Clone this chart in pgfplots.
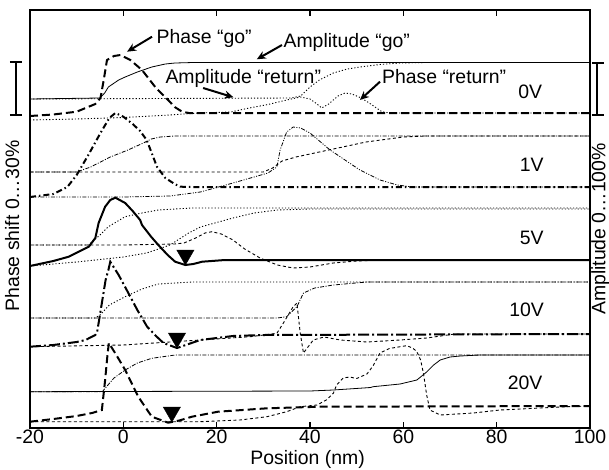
\documentclass[border=0pt]{standalone}
\usepackage{pgfplots}
\pgfplotsset{compat=1.18}
\usepackage{fontspec}
\setmainfont{Liberation Sans}
\usetikzlibrary{arrows.meta}
\newcommand{\bigf}{\fontsize{19.5}{22}\selectfont}
\begin{document}
\begin{tikzpicture}
\begin{axis}[
  scale only axis, width=560bp, height=418bp,
  xmin=-20, xmax=100, ymin=10, ymax=428, y dir=reverse,
  xtick={-20,0,20,40,60,80,100}, ytick=\empty,
  tick align=inside, major tick length=6bp,
  xtick pos=both,
  every tick/.style={line width=1.5bp,black},
  axis line style={line width=2bp},
  /pgf/number format/assume math mode=true,
  tick label style={font=\bigf},
  xticklabel style={yshift=1.5bp},
  clip=false,
  thickd/.style={line width=2bp, dash pattern=on 8bp off 4bp},
  thickdd/.style={line width=2bp, dash pattern=on 6bp off 3bp on 1.5bp off 3bp},
  thickld/.style={line width=2bp, dash pattern=on 11bp off 3bp on 2bp off 3bp},
  thicks/.style={line width=2bp},
  thins/.style={line width=0.8bp},
  thindot/.style={line width=0.9bp, dash pattern=on 1.2bp off 2bp},
  thindash/.style={line width=0.9bp, dash pattern=on 3bp off 2.5bp},
  thindd/.style={line width=0.8bp, dash pattern=on 4bp off 1.5bp on 1bp off 1.5bp},
  thinddd/.style={line width=0.8bp, dash pattern=on 4bp off 1.5bp on 1bp off 1.5bp on 1bp off 1.5bp},
]
% ---------- 0V ----------
\addplot[thickd, black] coordinates {(-20,116)(-15,114.5)(-10,111.7)(-6,104)(-4.9,98)(-4.2,80)(-3.5,60)(-2,56)(-0.6,55)(1.5,60)(4,70)(7,88)(9.6,100)(11,107)(12.6,111.7)(14,113)(20,113)(100,113)};
\addplot[thins, black] coordinates {(-20,99)(-5,98)(-4,93)(-3.2,87)(-1,80)(0.4,77)(3,72)(6.1,67)(9,64)(11.1,63)(15,62.5)(100,62.5)};
\addplot[thindot, black] coordinates {(-20,99)(36,98)(38,96)(40,87)(42,80)(45,73)(48,69)(50.7,67)(55,64.5)(59.3,63)(65,62.5)(100,62.5)};
\addplot[thindot, black] coordinates {(-20,120)(-10,119)(0,117.5)(10,115)(16,113)(23,112)(27,108)(31,104.5)(35,100)(38,97)(40,99)(41.5,104)(42.5,108)(44,104)(46,96)(47.5,93)(49,94)(51,98)(53,104)(55.4,111.7)(57,113)(100,113)};
% ---------- 1V ----------
\addplot[thickdd, black] coordinates {(-20,197)(-15,194)(-12,187)(-10,175)(-7.5,155)(-4.9,133)(-3,118)(-1.7,113)(0,116.7)(2,124)(3.6,131)(5,140)(6,152)(7.2,166.7)(9,178)(11,184)(12.2,186.7)(15,187)(100,187)};
\addplot[thindd, black] coordinates {(-20,172)(-10,172)(-7,167)(-2.8,157)(1,150)(4.3,143)(6,139)(7.9,137)(11,136)(100,136)};
\addplot[thindash, black] coordinates {(-20,172)(30,172)(32,168)(34,161)(37,157)(44,150)(52,142)(60,137)(65,136)(100,136)};
\addplot[thinddd, black] coordinates {(-20,197)(0,197)(10,196)(16.5,192)(23.5,183)(28,177)(31,173)(32.9,167)(33.6,150)(35,132)(36.4,127)(38,128)(40,133)(44.3,150)(50.7,170)(55,180)(58.7,185)(62,187)(100,187)};
% ---------- 5V ----------
\addplot[thicks, black] coordinates {(-20,266)(-15,261)(-11.7,256.7)(-7.4,246.7)(-6,238)(-5.3,223)(-3.9,206.7)(-2.8,200)(-1.7,197.7)(0.4,203)(2,211)(3.6,220)(4.0,225)(6,237)(7.5,245)(9.5,255)(11.1,261.7)(13.3,265)(15,264)(16.9,261.7)(21.8,260)(100,260)};
\addplot[thindot, black] coordinates {(-20,245)(-7.5,245)(-5,235)(-3.2,226.7)(0.4,216.7)(4,213)(7.5,210)(14.7,208)(100,208)};
\addplot[thindash, black] coordinates {(-20,245)(0,245)(11,244)(13,243)(15.5,238)(17.5,233)(19,231.7)(21,234)(23.5,240)(26,249)(29.3,258)(33,265)(36.4,268)(40,267)(45,263)(50,261)(55,260)(100,260)};
\addplot[thindot, black] coordinates {(-20,266)(-10,262)(0,257)(5,253)(10,245)(14,233)(16.5,227)(23.5,218)(28,213)(33,210)(40,209)(100,209)};
% ---------- 10V ----------
\addplot[thickld, black] coordinates {(-20,346.7)(-15,345)(-10,342)(-8.1,340)(-6,335)(-5.6,331.7)(-4.6,303)(-3.8,280)(-3.2,270)(-2.8,261.7)(-1,275)(1.5,296.7)(3,310)(5.1,326.7)(7,336)(8.6,343)(11.5,348)(14,344)(16.5,340)(23.5,336)(30,335)(100,334)};
\addplot[thindot, black] coordinates {(-20,318)(-6,318)(-5,315)(-3,305)(0.4,296.7)(4,289)(7.5,284)(14.7,282)(100,282)};
\addplot[thindd, black] coordinates {(-20,318)(33,318)(35,316.7)(37.2,306.7)(38.6,293)(41,288)(45,285)(52.2,282)(100,282)};
\addplot[thindash, black] coordinates {(-20,346.7)(0,345)(16.5,340)(27.2,336.7)(32.9,333.3)(34.3,323)(36.4,306.7)(37.2,303)(37.9,333)(38.6,353)(40.7,340)(43,337)(46.5,340)(52.2,342)(59.3,340)(65,338)(71,334)(100,334)};
% ---------- 20V ----------
\addplot[thickd, black] coordinates {(-20,421.7)(-15,419)(-10,416)(-6.7,413)(-4.6,410)(-3.9,380)(-3.4,355)(-3.1,343)(-1.5,355)(0.4,370)(3.2,396.7)(6.1,416.7)(9.6,422.7)(12,420.5)(14.7,416.7)(20.3,411.7)(30.8,408.3)(42.2,406.7)(100,406)};
\addplot[thindd, black] coordinates {(-20,391.7)(-4.5,391.7)(-3.9,388.3)(-2,378)(0.4,370)(3,363)(6.1,358.3)(11.1,355)(100,355)};
\addplot[thins, black] coordinates {(-20,391.7)(40,391)(45,390)(53,387.5)(53.5,386.7)(59.3,384)(62.9,380)(65,372)(66.5,365)(67.9,360)(70,357)(72.2,356)(76.4,355)(100,355)};
\addplot[thindash, black] coordinates {(-20,421.7)(16.5,421.7)(25,420)(30.8,416.7)(35,411.7)(37.9,406.7)(41.5,405)(43.5,400)(45,393.3)(45.7,385)(47.1,378)(48.5,377)(50,378.5)(52.2,374)(53.5,366)(55,353)(57,348.5)(59.3,346.7)(60.7,345.7)(62,348)(62.9,351.7)(63.7,360)(64.3,373)(65,395)(65.7,410)(67.9,415)(75,413)(80.7,410)(95,406.7)(100,406)};
% ---------- markers ----------
\addplot[only marks, mark=triangle*, mark size=10bp, mark options={rotate=180, fill=black, draw=black}] coordinates {(13.3,255)(11.5,338)(10.4,412)};
% ---------- annotations ----------
\node[anchor=west, font=\bigf, inner sep=0pt] at (axis cs:7.1,38) {Phase “go”};
\node[anchor=west, font=\bigf, inner sep=0pt] at (axis cs:34.3,42) {Amplitude “go”};
\node[anchor=west, font=\bigf, inner sep=0pt] at (axis cs:9.0,78.3) {Amplitude “return”};
\node[anchor=west, font=\bigf, inner sep=0pt] at (axis cs:55.4,76.7) {Phase “return”};
\draw[-{Stealth[length=9bp,width=8bp]}, line width=2bp] (axis cs:6.15,36.7) -- (axis cs:0.8,51.7);
\draw[-{Stealth[length=9bp,width=8bp]}, line width=2bp] (axis cs:34.0,45) -- (axis cs:28.6,59.3);
\draw[-{Stealth[length=9bp,width=8bp]}, line width=2bp] (axis cs:17.1,88) -- (axis cs:23.6,97.3);
\draw[-{Stealth[length=9bp,width=8bp]}, line width=2bp] (axis cs:55.0,81.7) -- (axis cs:50.7,100);
\node[font=\bigf] at (axis cs:87.2,91.7) {0V};
\node[font=\bigf] at (axis cs:87.5,165) {1V};
\node[font=\bigf] at (axis cs:87.5,238) {5V};
\node[font=\bigf] at (axis cs:86.4,310) {10V};
\node[font=\bigf] at (axis cs:86.1,383) {20V};
\node[font=\bigf, inner sep=0pt] at (axis cs:39.5,459.5) {Position (nm)};
% scale bars
\draw[line width=2bp] (axis cs:-23.1,61.7) -- (axis cs:-23.1,115);
\draw[line width=2bp] (axis cs:-24.3,61.7) -- (axis cs:-21.8,61.7);
\draw[line width=2bp] (axis cs:-24.3,115) -- (axis cs:-21.8,115);
\draw[line width=2bp] (axis cs:101.6,63.3) -- (axis cs:101.6,115);
\draw[line width=2bp] (axis cs:100.4,63.3) -- (axis cs:102.9,63.3);
\draw[line width=2bp] (axis cs:100.4,115) -- (axis cs:102.9,115);
\node[font=\bigf, rotate=90] at (axis cs:-23.8,226) {Phase shift 0…30\%};
\node[font=\bigf, rotate=90] at (axis cs:102.2,229) {Amplitude 0…100\%};
\coordinate (SW) at (rel axis cs:0,0);
\coordinate (NE) at (rel axis cs:1,1);
\end{axis}
\pgfresetboundingbox
\path ([shift={(-30bp,-42bp)}]SW) rectangle ([shift={(19bp,10bp)}]NE);
\end{tikzpicture}
\end{document}
